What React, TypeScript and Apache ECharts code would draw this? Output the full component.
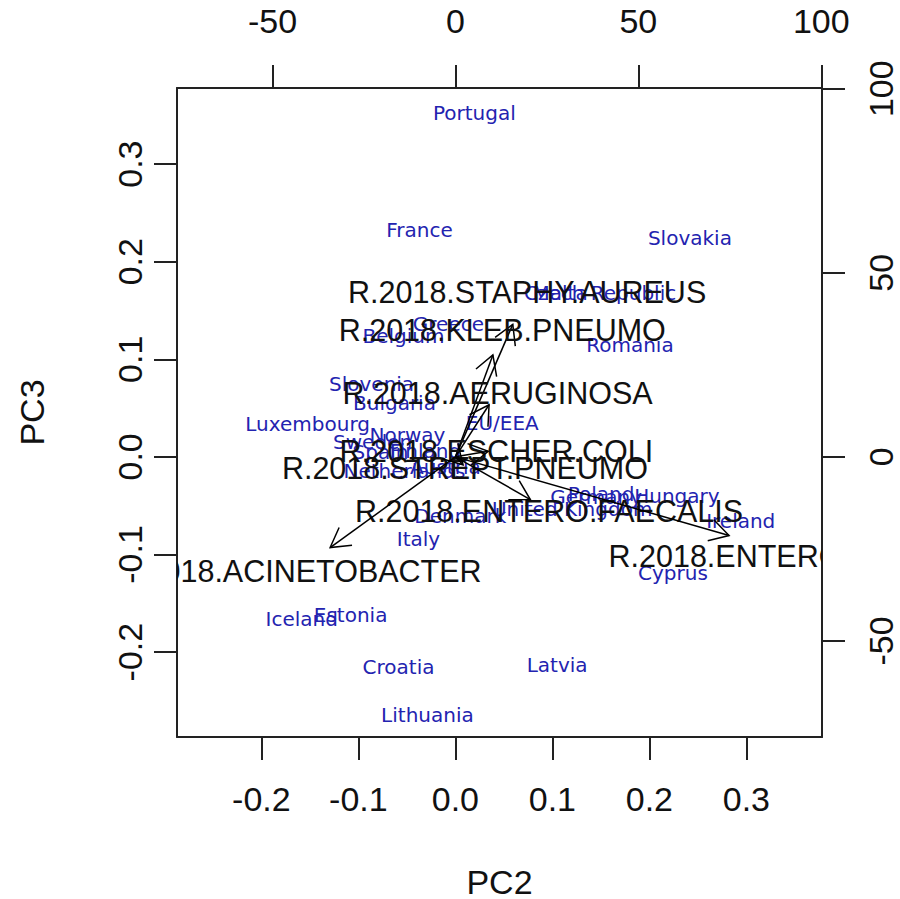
import React, { useEffect, useRef } from "react";
import * as echarts from "echarts";

// Observation scores (PC2, PC3)
const COUNTRIES = [
  "Portugal", "France", "Slovakia", "Czech Republic", "Malta", "Greece", "Belgium", "Romania",
  "Slovenia", "Bulgaria", "Luxembourg", "EU/EEA", "Norway", "Sweden", "Spain", "Finland",
  "Netherlands", "Austria", "Germany", "Poland", "Hungary", "United Kingdom", "Denmark", "Ireland",
  "Italy", "Cyprus", "Estonia", "Iceland", "Croatia", "Latvia", "Lithuania",
];
const PC2 = [
  0.0196, -0.037, 0.2418, 0.1492, 0.108, -0.0072, -0.0535, 0.18,
  -0.0864, -0.0628, -0.1523, 0.0484, -0.0494, -0.0854, -0.0772, -0.0309,
  -0.0525, -0.0103, 0.1451, 0.1502, 0.2284, 0.1204, 0.0051, 0.2942,
  -0.0381, 0.2243, -0.108, -0.1584, -0.0586, 0.1049, -0.0288,
];
const PC3 = [
  0.3539, 0.2335, 0.2253, 0.1687, 0.1687, 0.1368, 0.1245, 0.1152,
  0.0761, 0.0566, 0.035, 0.036, 0.0237, 0.0165, 0.0062, 0.0072,
  -0.0134, -0.0093, -0.0401, -0.037, -0.0391, -0.0525, -0.0597, -0.0648,
  -0.0833, -0.1183, -0.1605, -0.1646, -0.214, -0.2119, -0.2634,
];

// Variable loadings (top / right axes)
const VARIABLES = [
  "R.2018.STAPHY.AUREUS", "R.2018.KLEB.PNEUMO", "R.2018.AERUGINOSA", "R.2018.ESCHER.COLI",
  "R.2018.STREPT.PNEUMO", "R.2018.ENTERO.FAECALIS", "R.2018.ENTERO.FAECIUM", "R.2018.ACINETOBACTER",
];
const LOAD_X = [19.6, 12.8, 11.5, 11.2, 2.6, 25.6, 93.5, -42.8];
const LOAD_Y = [45.0, 34.6, 17.7, 1.9, -2.7, -14.5, -26.7, -30.8];

const PC_TICKS = [-0.2, -0.1, 0, 0.1, 0.2, 0.3];
const LOAD_TICKS = [-50, 0, 50, 100];
const PC_LIM = [-0.287, 0.378];
const LOAD_LIM = [-76.1, 100.2];
const ARROW_FRAC = 0.8;

const AXIS_FONT = "Liberation Sans, Arial, sans-serif";
const INK = "#111";
const BLUE = "#2323b0";
const TEXT_DY = 1;

export default function App() {
  const ref = useRef<HTMLDivElement>(null);
  useEffect(() => {
    if (!ref.current) return;
    const chart = echarts.init(ref.current, null, { renderer: "svg" });
    const axisCommon = {
      type: "value" as const,
      axisLine: { show: true, onZero: false, lineStyle: { color: "#222", width: 2 } },
      axisTick: { show: true, inside: false, length: 23, lineStyle: { color: "#222", width: 2 } },
      splitLine: { show: false },
    };
    const labelStyle = { color: INK, fontSize: 34, fontFamily: AXIS_FONT };
    const pcFmt = (v: number) => v.toFixed(1);
    const ldFmt = (v: number) => String(Math.round(v));

    chart.setOption({
      animation: false,
      backgroundColor: "#fff",
      grid: {
        left: 177,
        top: 88,
        width: 645,
        height: 649,
        containLabel: false,
        outerBoundsMode: "none",
      },
      xAxis: [
        {
          ...axisCommon,
          position: "bottom",
          min: PC_LIM[0],
          max: PC_LIM[1],
          axisTick: { ...axisCommon.axisTick, customValues: PC_TICKS },
          axisLabel: { ...labelStyle, margin: 45, customValues: PC_TICKS, formatter: pcFmt },
          name: "PC2",
          nameLocation: "middle",
          nameGap: 128,
          nameTextStyle: { ...labelStyle },
        },
        {
          ...axisCommon,
          position: "top",
          min: LOAD_LIM[0],
          max: LOAD_LIM[1],
          axisTick: { ...axisCommon.axisTick, customValues: LOAD_TICKS },
          axisLabel: { ...labelStyle, margin: 50, customValues: LOAD_TICKS, formatter: ldFmt },
        },
      ],
      yAxis: [
        {
          ...axisCommon,
          position: "left",
          min: PC_LIM[0],
          max: PC_LIM[1],
          axisTick: { ...axisCommon.axisTick, customValues: PC_TICKS },
          axisLabel: { ...labelStyle, margin: 30, rotate: 90, customValues: PC_TICKS, formatter: pcFmt },
          name: "PC3",
          nameLocation: "middle",
          nameGap: 128,
          nameRotate: 90,
          nameTextStyle: { ...labelStyle },
        },
        {
          ...axisCommon,
          position: "right",
          min: LOAD_LIM[0],
          max: LOAD_LIM[1],
          axisTick: { ...axisCommon.axisTick, customValues: LOAD_TICKS },
          axisLabel: { ...labelStyle, margin: 42, rotate: 90, customValues: LOAD_TICKS, formatter: ldFmt },
        },
      ],
      series: [
        {
          type: "custom",
          name: "countries",
          xAxisIndex: 0,
          yAxisIndex: 0,
          clip: true,
          data: COUNTRIES.map((_, i) => [PC2[i], PC3[i]]),
          renderItem: (params: any, api: any) => {
            const p = api.coord([api.value(0), api.value(1)]);
            return {
              type: "text",
              x: p[0],
              y: p[1] + TEXT_DY,
              style: {
                text: COUNTRIES[params.dataIndex],
                fill: BLUE,
                fontSize: 20,
                fontFamily: "DejaVu Sans, sans-serif",
                align: "center",
                verticalAlign: "middle",
              },
            };
          },
        },
        {
          type: "custom",
          name: "loadings",
          xAxisIndex: 1,
          yAxisIndex: 1,
          clip: true,
          data: VARIABLES.map((_, i) => [LOAD_X[i], LOAD_Y[i]]),
          renderItem: (params: any, api: any) => {
            const vx = api.value(0);
            const vy = api.value(1);
            const o = api.coord([0, 0]);
            const t = api.coord([vx * ARROW_FRAC, vy * ARROW_FRAC]);
            const l = api.coord([vx, vy]);
            const ang = Math.atan2(t[1] - o[1], t[0] - o[0]);
            const h = 22;
            const a = Math.PI / 6;
            const p1 = [t[0] - h * Math.cos(ang - a), t[1] - h * Math.sin(ang - a)];
            const p2 = [t[0] - h * Math.cos(ang + a), t[1] - h * Math.sin(ang + a)];
            return {
              type: "group",
              children: [
                {
                  type: "text",
                  x: l[0],
                  y: l[1] + TEXT_DY,
                  style: {
                    text: VARIABLES[params.dataIndex],
                    fill: INK,
                    fontSize: 30.5,
                    fontFamily: AXIS_FONT,
                    align: "center",
                    verticalAlign: "middle",
                  },
                },
                {
                  type: "line",
                  shape: { x1: o[0], y1: o[1], x2: t[0], y2: t[1] },
                  style: { stroke: "#000", lineWidth: 1.5 },
                },
                {
                  type: "polyline",
                  shape: { points: [p1, t, p2] },
                  style: { stroke: "#000", fill: null, lineWidth: 1.5 },
                },
              ],
            };
          },
        },
      ],
    });
    return () => chart.dispose();
  }, []);
  return (
    <div
      ref={ref}
      style={{ position: "fixed", left: 0, top: 0, width: 900, height: 899, background: "#fff" }}
    />
  );
}
